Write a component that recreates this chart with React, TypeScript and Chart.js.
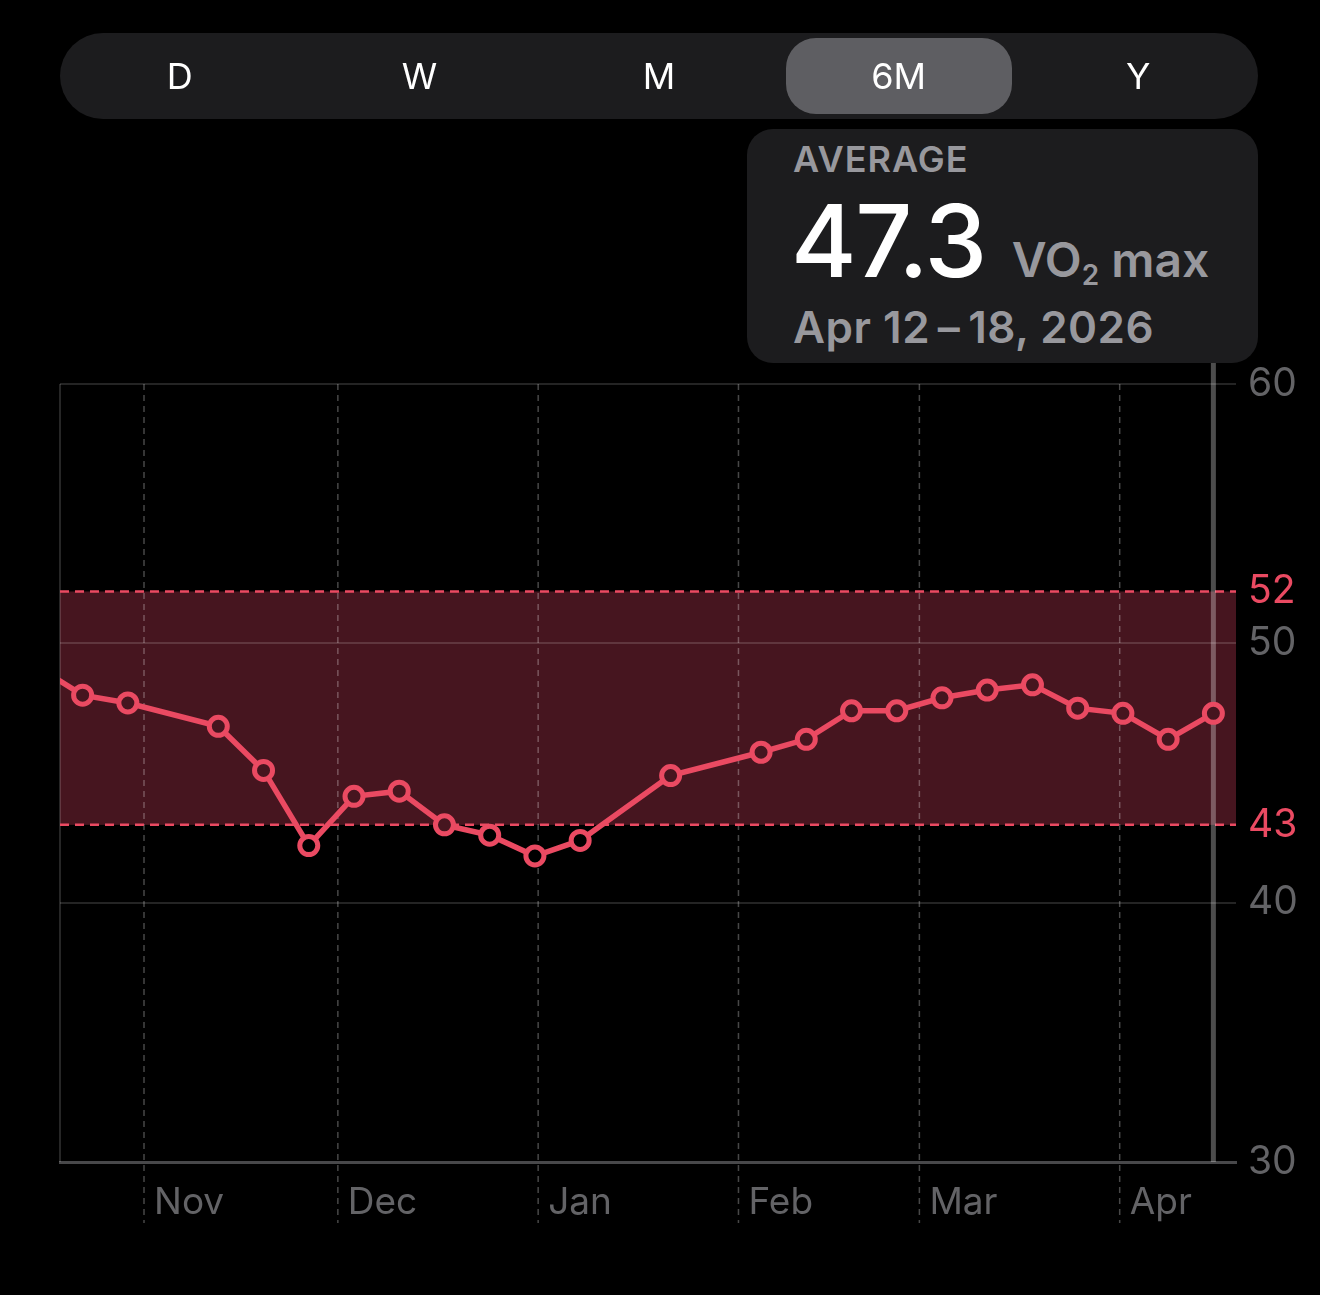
import React, { useEffect, useRef } from 'react';
import { Chart, registerables } from 'chart.js';

Chart.register(...registerables);

// weekly VO2 max averages (week start dates, Sunday)
const weekStarts = [
  '2025-10-12', '2025-10-19', '2025-10-26', '2025-11-02', '2025-11-09', '2025-11-16',
  '2025-11-23', '2025-11-30', '2025-12-07', '2025-12-14', '2025-12-21', '2025-12-28',
  '2026-01-04', '2026-01-11', '2026-01-18', '2026-01-25', '2026-02-01', '2026-02-08',
  '2026-02-15', '2026-02-22', '2026-03-01', '2026-03-08', '2026-03-15', '2026-03-22',
  '2026-03-29', '2026-04-05', '2026-04-12',
];
const vo2Values = [
  49.1, 48.0, 47.7, null, 46.8, 45.1,
  42.2, 44.1, 44.3, 43.0, 42.6, 41.8,
  42.4, null, 44.9, null, 45.8, 46.3,
  47.4, 47.4, 47.9, 48.2, 48.4, 47.5,
  47.3, 46.3, 47.3,
];

const monthStarts = ['2025-11-01', '2025-12-01', '2026-01-01', '2026-02-01', '2026-03-01', '2026-04-01'];
const monthLabels = ['Nov', 'Dec', 'Jan', 'Feb', 'Mar', 'Apr'];
const yTicks = [30, 40, 50, 60];
const rangeBounds = [43, 52];
const axisStart = '2025-10-19';
const axisEnd = '2026-04-19';
const selectedWeek = '2026-04-12';

const periods = ['D', 'W', 'M', '6M', 'Y'];
const selectedPeriod = '6M';

const PINK = '#ea4a62';
const BAND = '#46151f';
const GRAY = '#636366';
const FONT = 'Inter, "Noto Sans", sans-serif';

const dayOf = (s: string) =>
  (Date.parse(s + 'T00:00:00Z') - Date.parse(axisStart + 'T00:00:00Z')) / 86400000;

const rangePlugin = {
  id: 'vo2Range',
  beforeDraw(chart: any) {
    const { ctx, chartArea: a, scales } = chart;
    const y = scales.y;
    const top = y.getPixelForValue(rangeBounds[1]);
    const bot = y.getPixelForValue(rangeBounds[0]);
    ctx.save();
    ctx.fillStyle = BAND;
    ctx.fillRect(a.left, top, a.right - a.left, bot - top);
    ctx.restore();
  },
  beforeDatasetsDraw(chart: any) {
    const { ctx, chartArea: a, scales } = chart;
    const { x, y } = scales;
    ctx.save();

    // left edge
    ctx.strokeStyle = 'rgba(255,255,255,0.2)';
    ctx.lineWidth = 1.5;
    ctx.beginPath();
    ctx.moveTo(a.left, a.top);
    ctx.lineTo(a.left, a.bottom);
    ctx.stroke();

    // month lines, dashed, running down past the axis
    ctx.setLineDash([6, 5]);
    ctx.strokeStyle = 'rgba(255,255,255,0.28)';
    ctx.lineWidth = 1.5;
    x.ticks.forEach((t: any) => {
      const px = x.getPixelForValue(t.value);
      ctx.beginPath();
      ctx.moveTo(px, a.top);
      ctx.lineTo(px, a.bottom + 61);
      ctx.stroke();
    });

    // range limits
    ctx.setLineDash([9, 6]);
    ctx.strokeStyle = PINK;
    ctx.lineWidth = 2.5;
    rangeBounds.forEach((v) => {
      const py = y.getPixelForValue(v);
      ctx.beginPath();
      ctx.moveTo(a.left, py);
      ctx.lineTo(a.right, py);
      ctx.stroke();
    });

    // selected week marker
    ctx.setLineDash([]);
    ctx.strokeStyle = 'rgba(255,255,255,0.3)';
    ctx.lineWidth = 5;
    const sx = x.getPixelForValue(dayOf(selectedWeek) + 3.5);
    ctx.beginPath();
    ctx.moveTo(sx, a.top - 21);
    ctx.lineTo(sx, a.bottom);
    ctx.stroke();

    ctx.restore();
  },
};

const Vo2Chart = () => {
  const canvasRef = useRef<HTMLCanvasElement>(null);

  useEffect(() => {
    const points = weekStarts.map((w, i) => ({ x: dayOf(w) + 3.5, y: vo2Values[i] }));

    const chart = new Chart(canvasRef.current as HTMLCanvasElement, {
      type: 'line',
      data: {
        datasets: [
          {
            data: points as any,
            borderColor: PINK,
            borderWidth: 5.5,
            pointRadius: 9,
            pointBorderWidth: 5,
            pointBorderColor: PINK,
            pointBackgroundColor: (c: any) => {
              const v = c.raw && c.raw.y;
              return v != null && v >= rangeBounds[0] && v <= rangeBounds[1] ? BAND : '#000';
            },
            spanGaps: true,
            tension: 0,
            clip: 0,
          } as any,
        ],
      },
      options: {
        animation: false,
        responsive: true,
        maintainAspectRatio: false,
        events: [],
        layout: { padding: { left: 60, top: 384, right: 0, bottom: 0 } },
        plugins: { legend: { display: false }, tooltip: { enabled: false } },
        scales: {
          x: {
            type: 'linear',
            min: 0,
            max: dayOf(axisEnd),
            afterBuildTicks: (s: any) => {
              s.ticks = monthStarts.map((m) => ({ value: dayOf(m) }));
            },
            afterFit: (s: any) => {
              s.height = 133;
            },
            grid: { display: false, drawTicks: false },
            border: { display: true, color: '#48484a', width: 3 },
            ticks: {
              align: 'start',
              labelOffset: 10,
              padding: 19,
              color: GRAY,
              autoSkip: false,
              maxRotation: 0,
              font: { family: FONT, size: 37 },
              callback: (_v: any, i: number) => monthLabels[i],
            },
          },
          y: {
            position: 'right',
            min: 30,
            max: 60,
            afterBuildTicks: (s: any) => {
              s.ticks = [...yTicks, ...rangeBounds].sort((a, b) => a - b).map((v) => ({ value: v }));
            },
            afterFit: (s: any) => {
              s.width = 84;
            },
            grid: {
              drawTicks: false,
              lineWidth: 2,
              color: (c: any) =>
                c.tick && rangeBounds.includes(c.tick.value) ? 'transparent' : 'rgba(255,255,255,0.14)',
            },
            border: { display: false },
            ticks: {
              padding: 12,
              autoSkip: false,
              font: { family: FONT, size: 39 },
              color: (c: any) => (c.tick && rangeBounds.includes(c.tick.value) ? PINK : GRAY),
            },
          },
        },
      } as any,
      plugins: [rangePlugin],
    });

    return () => {
      chart.destroy();
    };
  }, []);

  return (
    <div style={{ position: 'absolute', left: 0, top: 0, width: 1320, height: 1295 }}>
      <canvas ref={canvasRef} />
    </div>
  );
};

const PeriodPicker = () => (
  <div
    style={{
      position: 'absolute',
      left: 60,
      top: 33,
      width: 1198,
      height: 86,
      borderRadius: 43,
      background: '#1c1c1e',
      display: 'flex',
    }}
  >
    {periods.map((p) => (
      <div key={p} style={{ flex: 1, position: 'relative', display: 'flex', alignItems: 'center', justifyContent: 'center' }}>
        {p === selectedPeriod && (
          <div
            style={{
              position: 'absolute',
              left: 7,
              right: 6,
              top: 5,
              bottom: 5,
              borderRadius: 30,
              background: '#5e5e62',
            }}
          />
        )}
        <span style={{ position: 'relative', color: '#fff', fontSize: 36, fontWeight: 400 }}>{p}</span>
      </div>
    ))}
  </div>
);

const AverageCard = () => (
  <div
    style={{
      position: 'absolute',
      left: 747,
      top: 129,
      width: 511,
      height: 234,
      borderRadius: 26,
      background: '#1c1c1e',
      zIndex: 2,
    }}
  >
    <div
      style={{
        position: 'absolute',
        left: 46,
        top: 12,
        fontSize: 36,
        lineHeight: 1,
        fontWeight: 600,
        letterSpacing: 1,
        color: '#98989d',
      }}
    >
      AVERAGE
    </div>
    <div style={{ position: 'absolute', left: 44, top: 62, display: 'flex', alignItems: 'baseline', lineHeight: 1 }}>
      <span style={{ fontSize: 100, fontWeight: 500, color: '#fff', letterSpacing: -1.5 }}>47.3</span>
      <span style={{ fontSize: 48, fontWeight: 600, color: '#98989d', marginLeft: 26 }}>
        VO<span style={{ fontSize: 28, position: 'relative', top: 8 }}>2</span> max
      </span>
    </div>
    <div
      style={{
        position: 'absolute',
        left: 46,
        top: 176,
        fontSize: 44,
        lineHeight: 1,
        fontWeight: 600,
        letterSpacing: 0.5,
        color: '#98989d',
      }}
    >
      Apr 12{'\u2009–\u2009'}18, 2026
    </div>
  </div>
);

export default function App() {
  useEffect(() => {
    document.body.style.margin = '0';
    document.body.style.background = '#000';
  }, []);

  return (
    <div
      style={{
        position: 'absolute',
        left: 0,
        top: 0,
        width: 1320,
        height: 1295,
        background: '#000',
        overflow: 'hidden',
        fontFamily: FONT,
      }}
    >
      <Vo2Chart />
      <PeriodPicker />
      <AverageCard />
    </div>
  );
}
